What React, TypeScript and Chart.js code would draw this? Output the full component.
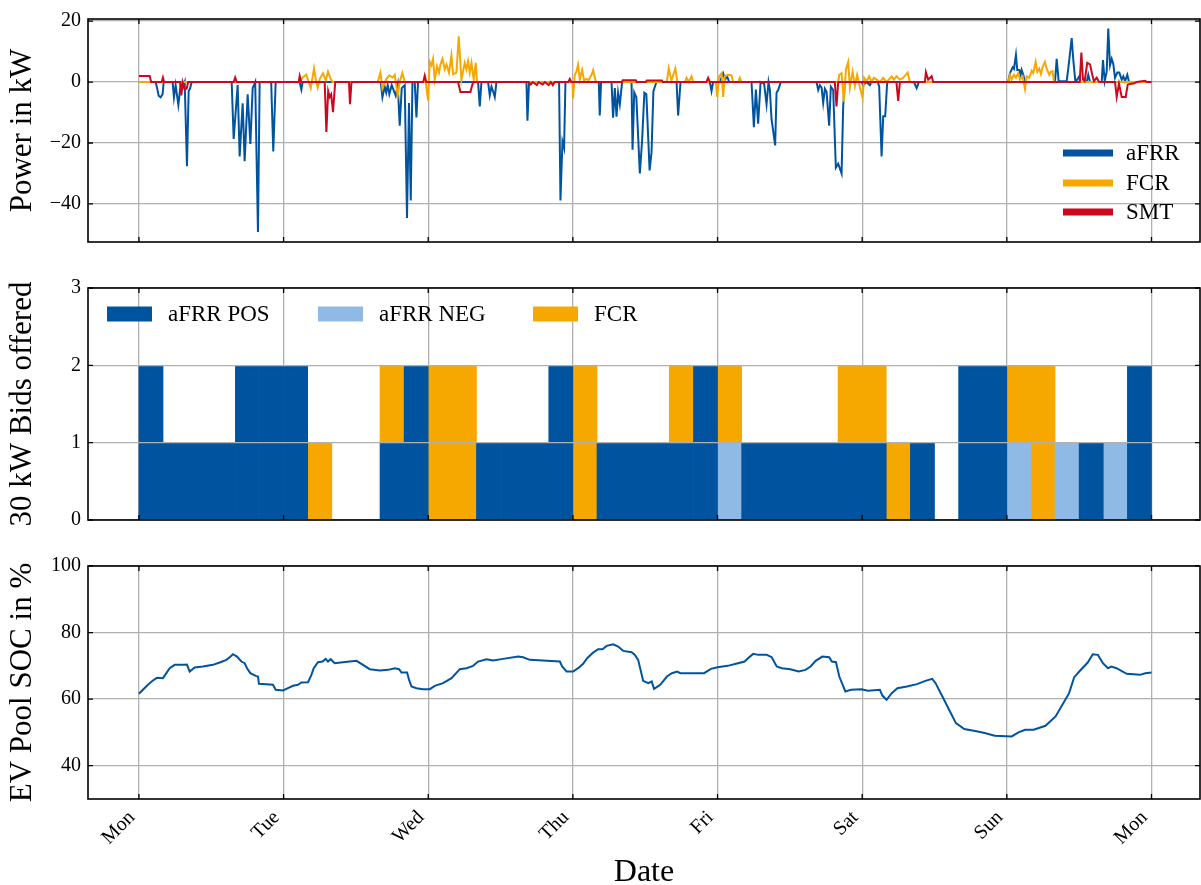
import React, { useEffect, useRef } from 'react';
import { Chart, registerables } from 'chart.js';

Chart.register(...registerables);

const FONT = "'Liberation Serif', 'Times New Roman', serif";
const C_BLUE = '#00549F';
const C_LIGHTBLUE = '#8EBAE5';
const C_ORANGE = '#F6A800';
const C_RED = '#CC071E';
const C_GRID = '#b0b0b0';

// x axis: hours since Monday 00:00
const DAY_LABELS = ['Mon', 'Tue', 'Wed', 'Thu', 'Fri', 'Sat', 'Sun', 'Mon'];
const DAY_TICK_HOURS = 24;

// ---- Panel 1: power [hour, kW]
const AFRR_POWER: [number, number][] = [
  [0, 0], [2.77, 0], [3.02, -2], [3.27, -4.5], [3.6, -5], [3.93, -4], [4.1, 0],
  [5.59, 0], [5.81, -5], [6.09, -1], [6.54, -7.5], [6.92, -1], [7.25, -2], [7.59, 0], [7.97, -27.6], [8.25, -3], [8.5, -2], [8.75, 0],
  [15.39, 0], [15.72, -18.7], [16.38, -1], [16.71, -24.4], [17.21, -7], [17.54, -26], [18.04, -4], [18.49, -20.3], [18.87, -2], [19.29, 0], [19.75, -49.2], [20.03, 0],
  [21.94, 0], [22.29, -22.8], [22.69, 0],
  [26.67, 0], [26.95, -2.5], [27.17, 0],
  [40.12, 0], [40.4, -5], [40.78, -1.5], [41.03, -3.5], [41.28, -1], [41.55, -4], [41.94, -1], [42.61, -4.5], [42.94, -1], [43.27, -14.3], [43.6, -2], [44.1, -1], [44.48, -44.6], [44.81, -6.9], [45.1, -38.9], [45.38, 0],
  [45.76, 0], [46.04, -11.6], [46.31, 0],
  [56.27, 0], [56.55, -8], [56.83, 0], [57.93, 0], [58.21, -4.4], [58.49, -1.5], [58.76, -3], [59.04, -4.9], [59.32, 0],
  [64.3, 0], [64.46, -12.7], [64.73, 0],
  [69.71, 0], [69.94, -38.9], [70.27, -19.5], [70.54, -21.6], [70.77, 0],
  [76.3, 0], [76.46, -11], [76.68, 0],
  [78.41, 0], [78.67, -11.7], [78.96, -2], [79.24, -11.4], [79.5, -3.5], [79.79, -7.3], [80.17, 0],
  [81.73, 0], [81.9, -22.2], [82.18, -3.4], [82.53, -5], [83.11, -30], [83.49, -19], [83.86, -3.5], [84.19, -4], [84.73, -29], [85.05, -23], [85.36, -3], [85.86, 0],
  [89.2, 0], [89.46, -11], [89.86, 0],
  [94.72, 0], [95.0, -3], [95.27, 0],
  [96.38, 0], [96.93, 2.9], [97.26, 0.8], [97.59, 1.9], [97.93, 0],
  [101.64, 0], [102.03, -14.8], [102.36, -2.5], [102.74, -13.7], [103.14, 0], [103.73, -0.5], [104.13, -7.3], [104.46, 0], [104.68, -2.5], [104.96, -12.2], [105.56, -20.8], [105.79, -3.5], [106.06, -2.6], [106.51, 0],
  [112.43, 0], [112.7, -2.6], [112.98, -1], [113.26, -1.8], [113.53, -6.8], [113.81, -2.2], [114.09, -3.2], [114.52, -14.3], [114.8, -1.5], [115.19, -2.6], [115.63, -28.1], [116.02, -26.8], [116.58, -30], [116.85, -7.9], [117.13, 0],
  [119.9, 0], [120.17, -1], [120.73, 0], [121.28, -1], [121.61, 0],
  [122.6, 0], [122.82, -1.5], [123.22, -24.4], [123.49, -11.2], [123.82, -11.2], [124.15, 0],
  [128.58, 0], [129.03, -2], [129.41, 0],
  [144.23, 0], [144.51, 2.9], [144.96, 4.8], [145.18, 4.3], [145.51, 8.9], [145.73, 4], [146.06, 4], [146.3, 2.4], [146.46, 4], [146.73, 2.4], [147.01, 0],
  [151.99, 0], [152.27, 7.6], [152.6, 0.3], [153.93, 0.3], [154.2, 4.5], [154.76, 14.4], [155.03, 7.3], [155.36, 0.3], [155.69, 0.8], [156.02, 1.9], [156.25, 0],
  [157.25, 0], [157.51, 2.4], [157.8, 0],
  [159.74, 0], [159.95, 7.2], [160.24, 0.3], [160.57, 3.4], [160.83, 17.6], [161.12, 5.5], [161.4, 7.6], [161.66, 6], [161.95, 1.4], [162.33, 3.1], [162.66, 3.1], [163.06, 0.8], [163.33, 1.9], [163.61, 0.3], [163.99, 2.4], [164.27, 0],
  [168, 0],
];

const FCR_POWER: [number, number][] = [
  [0, 0],
  [26.67, 0], [27.17, 1.5], [27.78, 2.4], [28.17, 0], [28.5, -2], [29.05, 4.5], [29.33, 1], [29.66, -1.8], [29.99, 1], [30.54, 2.9], [30.99, 0.5], [31.37, 3.4], [31.82, 1], [32.15, 0],
  [39.62, 0], [40.07, 3.1], [40.4, -2.2], [41.03, 1], [41.55, 2.2], [42.11, 1.5], [42.44, 2.4], [42.94, -4.5], [43.27, 0], [43.7, 3], [44.1, 0],
  [47.59, 0], [47.97, -6], [48.25, 6.6], [48.53, 5.5], [48.8, 7.6], [49.08, 0.8], [49.46, 5.2], [49.79, 3.1], [50.03, 5.8], [50.36, 7.6], [50.74, 4.2], [51.02, 5.8], [51.45, 3.1], [51.85, 8.7], [52.12, 2.6], [52.68, 3.1], [53.06, 15], [53.51, 0.8], [54.06, 6.3], [54.34, 4.2], [54.61, 6.8], [54.89, 3.1], [55.17, 6.3], [55.55, 0.8], [55.89, 6.3], [56.1, 0],
  [71.93, 0], [72.03, -5.4], [72.31, 2.4], [72.59, 3.5], [72.86, 5.7], [73.15, 0.8], [73.53, 4], [73.86, 0.5], [74.26, 1], [74.64, 0.6], [75.09, 2.4], [75.36, 3.9], [75.76, 0.5], [75.92, 0],
  [87.59, 0], [87.9, 4.5], [88.35, 0.5], [89.0, 4.5], [89.33, 0], [90.58, 0], [90.86, 1.4], [91.24, 0], [91.69, 1.9], [91.95, 0],
  [95.72, 0], [95.94, -4.9], [96.27, 1.9], [96.67, 2.9], [96.93, -4.9], [97.21, 1.9], [97.76, 2.4], [98.32, 2.2], [98.59, 0], [99.42, 0], [99.7, 1.4], [99.98, 0],
  [116.02, 0], [116.19, 2.4], [116.58, 2.9], [116.96, -6.5], [117.29, 4], [117.68, 6.6], [117.96, -1.8], [118.41, 3.4], [118.79, -1.2], [119.17, 2.4], [119.62, -1.8], [120.07, -5.1], [120.33, 1.4], [120.73, 0.3], [121.16, 1.9], [121.56, 0], [121.94, 1.4], [122.39, 0.8], [122.94, 0], [123.49, 1.4], [124.05, 0], [124.88, 1.9], [125.26, 0.8], [125.71, 1.9], [126.26, 0.8], [126.8, 1.4], [127.53, 3.1], [127.92, 0],
  [144.23, 0], [144.51, 2.4], [144.79, 0.8], [145.18, 2.4], [145.51, 1.4], [145.89, 2.9], [146.17, 0.8], [146.62, 1.9], [147.01, -2.3], [147.29, 1.9], [147.72, 1.4], [148.12, 3.7], [148.38, 2.9], [148.78, 6.6], [149.05, 3.4], [149.38, 4.4], [149.66, 2.6], [149.94, 5], [150.32, 6.6], [150.6, 4.4], [151.03, 2.4], [151.31, 3.4], [151.59, 3.6], [151.81, 0.3], [151.98, 0],
  [168, 0],
];

const SMT_POWER: [number, number][] = [
  [0, 2], [1.78, 2], [2.03, 0], [3.77, 0], [3.98, 1.5], [4.18, 0],
  [6.84, 0], [7.04, -4.4], [7.25, 0], [7.59, -2.2], [7.92, -2.2], [8.17, 0],
  [15.72, 0], [15.97, 1.5], [16.22, 0],
  [26.51, 0], [26.67, 2], [26.92, 0],
  [30.82, 0], [31.1, -16.4], [31.4, -3], [31.65, -4.9], [31.9, -4], [32.2, -9.9], [32.57, 0],
  [34.85, 0], [35.02, -7.3], [35.27, 0],
  [47.17, 0], [47.42, 2.1], [47.67, 0],
  [52.95, 0], [53.34, -3.3], [55.0, -3.3], [55.44, 0],
  [64.69, 0], [65.01, -0.8], [65.35, 0], [66.01, -1], [66.34, 0], [67.0, -0.8], [67.34, 0], [68.0, -1], [68.34, 0], [68.67, -1], [69.0, 0],
  [71.24, 0], [71.49, 1], [71.74, 0],
  [80.12, 0], [80.28, 0.6], [82.44, 0.6], [82.61, 0], [84.1, 0], [84.27, 0.5], [86.76, 0.5], [86.92, 0],
  [94.14, 0], [94.44, 1.4], [94.72, 0],
  [115.46, 0], [115.74, -8], [116.02, 0],
  [125.68, 0], [125.98, -6.2], [126.26, 0],
  [130.41, 0], [130.57, 3.2], [130.95, 0.8], [131.52, 1.9], [131.78, 0],
  [156.09, 0], [156.37, 9.7], [156.63, 0.8], [156.91, 0.3], [157.34, 6.3], [157.8, 5.8], [158.17, 2.4], [158.45, 0.3], [158.9, 1.4], [159.33, 0],
  [161.95, 0], [162.23, -4.9], [162.61, -0.5], [163.06, -4.9], [163.72, -4.9], [164.06, -0.8], [164.44, -0.6], [165.0, -0.5], [165.56, 0], [166.93, 0.4], [167.22, 0],
  [168, 0],
];

// ---- Panel 2: 30 kW bids per 4-hour block
const BLOCK_START_HOURS = [
  0, 4, 8, 12, 16, 20, 24, 28, 32, 36, 40, 44, 48, 52, 56, 60, 64, 68, 72, 76, 80,
  84, 88, 92, 96, 100, 104, 108, 112, 116, 120, 124, 128, 132, 136, 140, 144, 148, 152, 156, 160, 164,
];
const AFRR_POS_BIDS = [2, 1, 1, 1, 2, 2, 2, 0, 0, 0, 1, 2, 0, 0, 1, 1, 1, 2, 0, 1, 1, 1, 1, 2, 0, 1, 1, 1, 1, 1, 1, 0, 1, 0, 2, 2, 0, 0, 0, 1, 0, 2];
const AFRR_NEG_BIDS = [0, 0, 0, 0, 0, 0, 0, 0, 0, 0, 0, 0, 0, 0, 0, 0, 0, 0, 0, 0, 0, 0, 0, 0, 1, 0, 0, 0, 0, 0, 0, 0, 0, 0, 0, 0, 1, 0, 1, 0, 1, 0];
const FCR_BIDS = [0, 0, 0, 0, 0, 0, 0, 1, 0, 0, 1, 0, 2, 2, 0, 0, 0, 0, 2, 0, 0, 0, 1, 0, 1, 0, 0, 0, 0, 1, 1, 1, 0, 0, 0, 0, 1, 2, 0, 0, 0, 0];

// ---- Panel 3: EV pool SOC [hour, %]
const SOC: [number, number][] = [
  [0, 61.6], [0.66, 62.8], [1.49, 64.3], [2.32, 65.6], [2.99, 66.4], [3.98, 66.3], [4.55, 67.8], [5.1, 69.3], [5.93, 70.3], [7.59, 70.3], [7.97, 70.4], [8.42, 68.3], [9.25, 69.5], [10.62, 69.8], [12.28, 70.3], [13.4, 71.0], [14.51, 71.8], [15.06, 72.6], [15.6, 73.5], [16.27, 72.8], [17.0, 71.3], [17.55, 70.8], [17.93, 69.3], [18.49, 67.8], [19.37, 67.0], [19.75, 66.8], [19.92, 64.6], [22.24, 64.3], [22.69, 62.8], [23.9, 62.6],
  [24.73, 63.3], [25.56, 64.0], [26.39, 64.3], [26.96, 65.0], [28.05, 65.1], [28.62, 67.3], [29.0, 69.3], [29.71, 71.1], [30.44, 71.3], [30.99, 72.1], [31.37, 71.3], [31.82, 72.0], [32.49, 70.8], [33.86, 71.1], [34.97, 71.3], [36.09, 71.5], [37.18, 70.3], [38.3, 69.0], [39.96, 68.6], [41.33, 68.8], [42.45, 69.3], [43.16, 69.0], [43.56, 68.0], [44.49, 68.0], [44.82, 65.8], [45.22, 63.8], [46.05, 63.3], [47.14, 63.0],
  [48.26, 63.0], [49.09, 64.0], [50.46, 64.8], [51.86, 66.3], [53.24, 69.0], [54.35, 69.3], [55.44, 70.0], [56.27, 71.3], [57.67, 72.0], [58.76, 71.6], [60.42, 72.1], [62.91, 72.8], [63.74, 72.6], [64.86, 71.8], [69.84, 71.3], [70.22, 69.8], [70.95, 68.3],
  [72.04, 68.3], [72.87, 69.3], [73.7, 70.6], [74.37, 72.3], [75.36, 74.0], [76.19, 75.0], [76.92, 75.0], [77.59, 76.0], [78.68, 76.5], [79.51, 75.8], [80.34, 74.5], [81.74, 74.1], [82.29, 73.3], [82.83, 71.8], [83.66, 65.5], [84.51, 64.8], [85.08, 65.3], [85.47, 63.1], [86.49, 64.3], [87.6, 66.8], [88.43, 67.8], [89.29, 68.3], [89.84, 67.8], [93.77, 67.8],
  [94.9, 69.1], [96.01, 69.6], [97.69, 70.0], [99.38, 70.8], [100.5, 71.3], [101.06, 72.3], [101.91, 73.6], [102.74, 73.3], [104.15, 73.3], [104.99, 72.6], [105.82, 69.8], [106.67, 69.3], [108.07, 69.0], [109.48, 68.3], [110.59, 68.8], [111.44, 69.8], [112.28, 71.5], [113.39, 72.8], [114.52, 72.6], [114.97, 71.3], [115.65, 71.1], [116.2, 66.8], [117.21, 62.3], [118.16, 62.8], [119.85, 63.0],
  [120.96, 62.5], [122.94, 62.8], [123.38, 61.0], [124.05, 59.8], [124.9, 61.8], [125.84, 63.3], [127.42, 63.8], [129.09, 64.5], [130.5, 65.5], [131.62, 66.1], [132.18, 64.8], [133.31, 60.8], [134.42, 56.8], [135.55, 52.8], [136.95, 51.0], [139.19, 50.3], [140.32, 49.8], [142.0, 49.0],
  [144.8, 48.8], [145.93, 50.0], [147.04, 50.8], [148.45, 50.8], [150.41, 52.0], [152.09, 54.8], [153.22, 58.3], [154.33, 61.8], [155.18, 66.6], [156.02, 68.3], [157.42, 71.0], [158.26, 73.5], [159.11, 73.3], [159.94, 70.8], [160.79, 69.3], [161.35, 69.8], [162.2, 69.3], [163.88, 67.6], [166.12, 67.3], [166.97, 67.8], [168, 68.0],
];

const X_MIN = -8.45;
const X_MAX = 176.05;

const decorPlugin = {
  id: 'decor',
  afterDraw(chart: any, _args: any, opts: any) {
    const { ctx, chartArea } = chart;
    const { left, right, top, bottom } = chartArea;
    const xs = chart.scales.x;
    const ys = chart.scales.y;
    ctx.save();
    ctx.strokeStyle = '#000';
    ctx.lineWidth = 1.3;
    ctx.beginPath();
    const L = 5;
    for (const t of xs.ticks) {
      const p = xs.getPixelForValue(t.value);
      ctx.moveTo(p, top); ctx.lineTo(p, top + L);
      ctx.moveTo(p, bottom); ctx.lineTo(p, bottom - L);
    }
    for (const t of ys.ticks) {
      const p = ys.getPixelForValue(t.value);
      ctx.moveTo(left, p); ctx.lineTo(left + L, p);
      ctx.moveTo(right, p); ctx.lineTo(right - L, p);
    }
    ctx.stroke();
    ctx.lineWidth = 1.6;
    ctx.strokeRect(left, top, right - left, bottom - top);

    // y-axis title
    ctx.save();
    ctx.fillStyle = '#000';
    ctx.font = `${opts.titleSize}px ${FONT}`;
    ctx.translate(opts.titleX, (top + bottom) / 2);
    ctx.rotate(-Math.PI / 2);
    ctx.textAlign = 'center';
    ctx.textBaseline = 'middle';
    ctx.fillText(opts.yTitle, 0, 0);
    ctx.restore();

    // legend
    const lg = opts.legend;
    if (lg) {
      ctx.font = `${lg.fontSize}px ${FONT}`;
      ctx.textAlign = 'left';
      ctx.textBaseline = 'middle';
      lg.items.forEach((it: any, i: number) => {
        if (lg.kind === 'line') {
          const y = bottom - lg.rowsFromBottom[i];
          const x0 = right - lg.swatchFromRight;
          ctx.strokeStyle = it.color;
          ctx.lineWidth = lg.lineWidth;
          ctx.lineCap = 'butt';
          ctx.beginPath();
          ctx.moveTo(x0, y); ctx.lineTo(x0 + lg.swatchW, y);
          ctx.stroke();
          ctx.fillStyle = '#000';
          ctx.fillText(it.label, right - lg.textFromRight, y + 1);
        } else {
          const y = top + lg.rowFromTop;
          const x0 = left + lg.swatchX[i];
          ctx.fillStyle = it.color;
          ctx.fillRect(x0, y - lg.swatchH / 2, lg.swatchW, lg.swatchH);
          ctx.fillStyle = '#000';
          ctx.fillText(it.label, left + lg.textX[i], y + 1);
        }
      });
    }
    ctx.restore();
  },
};

function xScale(showLabels: boolean, height: number) {
  return {
    type: 'linear',
    min: X_MIN,
    max: X_MAX,
    stacked: true,
    offset: false,
    border: { display: false },
    grid: { color: C_GRID, lineWidth: 1.3, drawTicks: false, offset: false },
    ticks: {
      display: showLabels,
      stepSize: DAY_TICK_HOURS,
      includeBounds: false,
      autoSkip: false,
      minRotation: 45,
      maxRotation: 45,
      padding: 7,
      labelOffset: -7,
      color: '#000',
      font: { family: FONT, size: 20 },
      callback: (v: number) => DAY_LABELS[Math.round(v / DAY_TICK_HOURS)] ?? '',
    },
    title: showLabels
      ? { display: true, text: 'Date', color: '#000', font: { family: FONT, size: 32, lineHeight: 1 }, padding: { top: 0, bottom: -4 } }
      : { display: false },
    afterFit: (s: any) => { s.height = height; },
  };
}

function yScale(min: number, max: number, step: number, gridZ: number, stacked: boolean) {
  return {
    type: 'linear',
    min,
    max,
    stacked,
    border: { display: false },
    grid: { color: C_GRID, lineWidth: 1.3, drawTicks: false, z: gridZ },
    ticks: {
      stepSize: step,
      includeBounds: false,
      padding: 7,
      color: '#000',
      font: { family: FONT, size: 20 },
      callback: (v: number) => (v < 0 ? '\u2212' + Math.abs(v) : String(v)),
    },
    afterFit: (s: any) => { s.width = 88; },
  };
}

const toXY = (arr: [number, number][]) => arr.map(([x, y]) => ({ x, y }));

function usePanel(ref: React.RefObject<HTMLCanvasElement | null>, make: () => any) {
  useEffect(() => {
    if (!ref.current) return;
    const chart = new Chart(ref.current, make());
    return () => chart.destroy();
  }, []);
}

export default function App() {
  const r1 = useRef<HTMLCanvasElement>(null);
  const r2 = useRef<HTMLCanvasElement>(null);
  const r3 = useRef<HTMLCanvasElement>(null);

  usePanel(r1, () => ({
    type: 'line',
    data: {
      datasets: [
        { label: 'aFRR', data: toXY(AFRR_POWER), borderColor: C_BLUE, borderWidth: 2, pointRadius: 0, order: 3 },
        { label: 'FCR', data: toXY(FCR_POWER), borderColor: C_ORANGE, borderWidth: 2, pointRadius: 0, order: 2 },
        { label: 'SMT', data: toXY(SMT_POWER), borderColor: C_RED, borderWidth: 2, pointRadius: 0, order: 1 },
      ],
    },
    options: {
      responsive: false,
      animation: false,
      layout: { padding: { top: 10, right: 1, left: 0, bottom: 0 } },
      plugins: {
        legend: { display: false },
        tooltip: { enabled: false },
        decor: {
          yTitle: 'Power in kW', titleX: 23, titleSize: 31,
          legend: {
            kind: 'line', fontSize: 23, lineWidth: 7, swatchW: 50, swatchFromRight: 137, textFromRight: 74,
            rowsFromBottom: [89, 59, 30],
            items: [{ label: 'aFRR', color: C_BLUE }, { label: 'FCR', color: C_ORANGE }, { label: 'SMT', color: C_RED }],
          },
        },
      },
      scales: { x: xScale(false, 23), y: yScale(-52.5, 20.7, 20, 0, false) },
    },
    plugins: [decorPlugin],
  }));

  usePanel(r2, () => {
    const centers = BLOCK_START_HOURS.map((h) => h + 2);
    const mk = (label: string, vals: number[], color: string) => ({
      label,
      data: centers.map((x, i) => ({ x, y: vals[i] })),
      backgroundColor: color,
      borderWidth: 0,
      barPercentage: 1,
      categoryPercentage: 1,
    });
    return {
      type: 'bar',
      data: {
        datasets: [
          mk('aFRR POS', AFRR_POS_BIDS, C_BLUE),
          mk('aFRR NEG', AFRR_NEG_BIDS, C_LIGHTBLUE),
          mk('FCR', FCR_BIDS, C_ORANGE),
        ],
      },
      options: {
        responsive: false,
        animation: false,
        layout: { padding: { top: 23, right: 1, left: 0, bottom: 0 } },
        plugins: {
          legend: { display: false },
          tooltip: { enabled: false },
          decor: {
            yTitle: '30 kW Bids offered', titleX: 23, titleSize: 31,
            legend: {
              kind: 'box', fontSize: 23, swatchW: 45, swatchH: 15, rowFromTop: 26,
              swatchX: [19, 230, 445], textX: [80, 291, 506],
              items: [{ label: 'aFRR POS', color: C_BLUE }, { label: 'aFRR NEG', color: C_LIGHTBLUE }, { label: 'FCR', color: C_ORANGE }],
            },
          },
        },
        scales: { x: xScale(false, 23), y: yScale(0, 3, 1, 1, true) },
      },
      plugins: [decorPlugin],
    };
  });

  usePanel(r3, () => ({
    type: 'line',
    data: {
      datasets: [
        { label: 'SOC', data: toXY(SOC), borderColor: C_BLUE, borderWidth: 2, pointRadius: 0 },
      ],
    },
    options: {
      responsive: false,
      animation: false,
      layout: { padding: { top: 23, right: 1, left: 0, bottom: 0 } },
      plugins: {
        legend: { display: false },
        tooltip: { enabled: false },
        decor: { yTitle: 'EV Pool SOC in %', titleX: 23, titleSize: 31 },
      },
      scales: { x: xScale(true, 86), y: yScale(30, 100, 20, 0, false) },
    },
    plugins: [decorPlugin],
  }));

  return (
    <div style={{ position: 'absolute', left: 0, top: 0, width: 1201, height: 885, background: '#fff', overflow: 'hidden' }}>
      <canvas ref={r1} width={1201} height={265} style={{ display: 'block' }} />
      <canvas ref={r2} width={1201} height={278} style={{ display: 'block' }} />
      <canvas ref={r3} width={1201} height={342} style={{ display: 'block' }} />
    </div>
  );
}
